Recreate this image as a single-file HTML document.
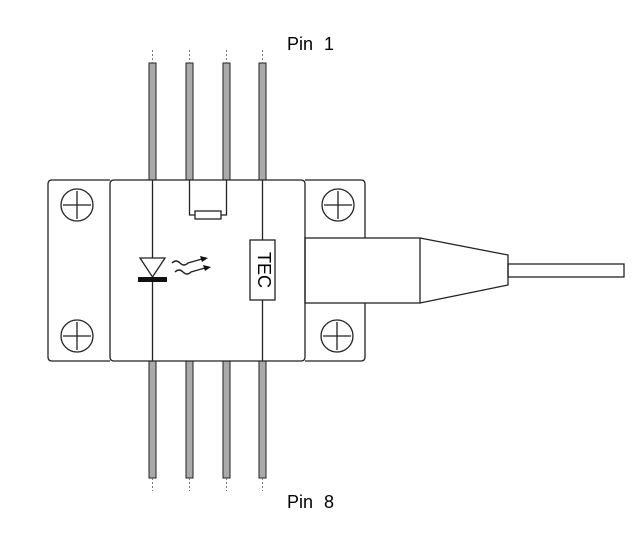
<!DOCTYPE html>
<html><head><style>body{margin:0;background:#fff}svg{display:block}</style></head><body>
<svg width="643" height="544" viewBox="0 0 643 544" xmlns="http://www.w3.org/2000/svg">
<g fill="#aaa" stroke="#222" stroke-width="1">
<rect x="149" y="63" width="7" height="117"/><rect x="186" y="63" width="7" height="117"/>
<rect x="223" y="63" width="7" height="117"/><rect x="259" y="63" width="7" height="117"/>
<rect x="149" y="361" width="7" height="117"/><rect x="186" y="361" width="7" height="117"/>
<rect x="223" y="361" width="7" height="117"/><rect x="259" y="361" width="7" height="117"/>
</g>
<g stroke="#777" stroke-width="1" stroke-dasharray="2,2">
<line x1="152.5" y1="50" x2="152.5" y2="63"/><line x1="189.5" y1="50" x2="189.5" y2="63"/>
<line x1="226.5" y1="50" x2="226.5" y2="63"/><line x1="262.5" y1="50" x2="262.5" y2="63"/>
<line x1="152.5" y1="478" x2="152.5" y2="491"/><line x1="189.5" y1="478" x2="189.5" y2="491"/>
<line x1="226.5" y1="478" x2="226.5" y2="491"/><line x1="262.5" y1="478" x2="262.5" y2="491"/>
</g>
<g fill="none" stroke="#222" stroke-width="1.3">
<path d="M110,180 H52 Q48,180 48,184 V357 Q48,361 52,361 H110"/>
<path d="M305,180 H361 Q365,180 365,184 V238 M365,303 V357 Q365,361 361,361 H305"/>
<path d="M114,180 H301 Q305,180 305,184 V357 Q305,361 301,361 H114 Q110,361 110,357 V184 Q110,180 114,180 Z"/>
<rect x="305" y="238" width="115" height="65"/>
<path d="M420,238 L508,255 V285 L420,303"/>
<rect x="508" y="264" width="116" height="13"/>
<circle cx="77" cy="205" r="16"/><circle cx="338" cy="205" r="16"/>
<circle cx="77" cy="336" r="16"/><circle cx="337" cy="336" r="16"/>
<path d="M63,205h28M77,191v28M324,205h28M338,191v28M63,336h28M77,322v28M323,336h28M337,322v28"/>
<path d="M152.5,180V361M262.5,180V240M262.5,300V361"/>
<path d="M189.5,180V215H195M221,215H226.5V180"/>
<rect x="195" y="211" width="26" height="8"/>
<rect x="250" y="240" width="25" height="60" fill="#fff"/>
<path d="M140,258H165L152.5,277Z" fill="#fff"/>
<path d="M172,263 q4,-4 8,0 q4,4 8,0 l14,-4 M175,272 q4,-4 8,0 q4,4 8,0 l14,-4"/>
</g>
<rect x="138" y="277" width="29" height="5" fill="#111"/>
<path d="M208,258 l-8,-2 l2,6Z M211,267 l-8,-2 l2,6Z" fill="#111"/>
<text x="262.5" y="270" font-family="Liberation Sans, sans-serif" font-size="18" text-anchor="middle" transform="rotate(90 262.5 270)" dominant-baseline="middle">TEC</text>
<text x="287" y="50" font-family="Liberation Sans, sans-serif" font-size="18" word-spacing="6" xml:space="preserve">Pin 1</text>
<text x="287" y="508" font-family="Liberation Sans, sans-serif" font-size="18" word-spacing="6" xml:space="preserve">Pin 8</text>
</svg>
</body></html>
